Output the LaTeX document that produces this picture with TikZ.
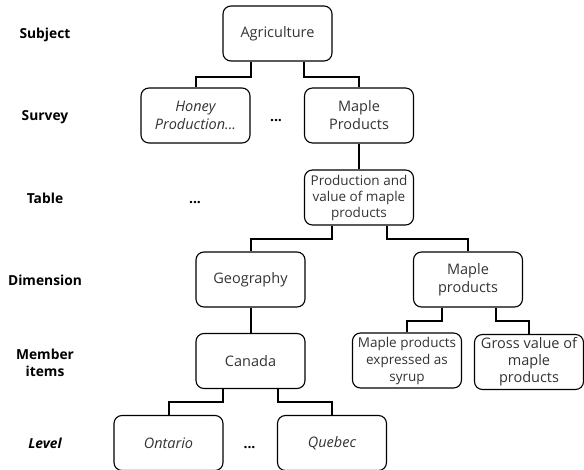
\documentclass[tikz,border=0pt]{standalone}
\usepackage{fontspec}
\setmainfont{Open Sans}
\definecolor{txt}{HTML}{333333}
\begin{document}
\begin{tikzpicture}[x=1pt,y=-1pt,
  box/.style={draw=black, text=txt, rounded corners=8pt, line width=1.1pt, minimum width=109pt, minimum height=55pt, align=center, inner sep=1pt, font=\fontsize{14.5}{18}\selectfont},
  sbox/.style={box, font=\fontsize{13.5}{16}\selectfont},
  conn/.style={line width=2pt},
  lab/.style={font=\fontsize{13.8}{17}\selectfont\bfseries, align=center},
  dots/.style={font=\fontsize{14}{16}\selectfont\bfseries, inner sep=0pt}]
\useasboundingbox (0,0) rectangle (584,470);
% level labels
\node[lab] (lsub) at (45,35) {Subject};
\node[lab] (lsur) at (45,117) {Survey};
\node[lab] (ltab) at (45,198) {Table};
\node[lab] (ldim) at (45,280) {Dimension};
\node[lab] (lmem) at (45,363) {Member\\items};
\node[lab, font=\fontsize{13.8}{17}\selectfont\bfseries\itshape] (llev) at (45,443) {Level};
% boxes
\node[box] (agri) at (277.5,33.5) {Agriculture};
\node[box, font=\fontsize{14.5}{18}\selectfont\itshape] (honey) at (195.5,115.5) {Honey\\Production...};
\node[dots] (d1) at (276,121) {...};
\node[box] (mp) at (359,115.5) {Maple\\Products};
\node[sbox] (tab) at (359,197.5) {Production and\\value of maple\\products};
\node[dots] (d2) at (195,203) {...};
\node[box] (geo) at (250.5,279.5) {Geography};
\node[box] (mpd) at (468,279.5) {Maple\\products};
\node[box] (can) at (250.5,361) {Canada};
\node[sbox, font=\fontsize{13.5}{17}\selectfont] (syr) at (407,360.5) {Maple products\\expressed as\\syrup};
\node[sbox, font=\fontsize{14.5}{17}\selectfont] (gross) at (529,362) {Gross value of\\maple\\products};
\node[box, font=\fontsize{14.5}{18}\selectfont\itshape] (ont) at (168.5,443) {Ontario};
\node[dots] (d3) at (249.5,448) {...};
\node[box, font=\fontsize{14.5}{18}\selectfont\itshape] (que) at (332,443) {Quebec};
% connectors
\draw[conn] ([xshift=-26.5pt]agri.south) -- ++(0,15) -| (honey.north);
\draw[conn] ([xshift=26.5pt]agri.south) -- ++(0,15) -| (mp.north);
\draw[conn] (mp.south) -- (tab.north);
\draw[conn] ([xshift=-27pt]tab.south) -- ++(0,13) -| (geo.north);
\draw[conn] ([xshift=28pt]tab.south) -- ++(0,13) -| (mpd.north);
\draw[conn] (geo.south) -- (can.north);
\draw[conn] ([xshift=-27.5pt]can.south) -- ++(0,13) -| (ont.north);
\draw[conn] ([xshift=27.5pt]can.south) -- ++(0,13) -| (que.north);
\draw[conn] ([xshift=-26pt]mpd.south) -- ++(0,13) -| (syr.north);
\draw[conn] ([xshift=28pt]mpd.south) -- ++(0,13) -| (gross.north);
\end{tikzpicture}
\end{document}
